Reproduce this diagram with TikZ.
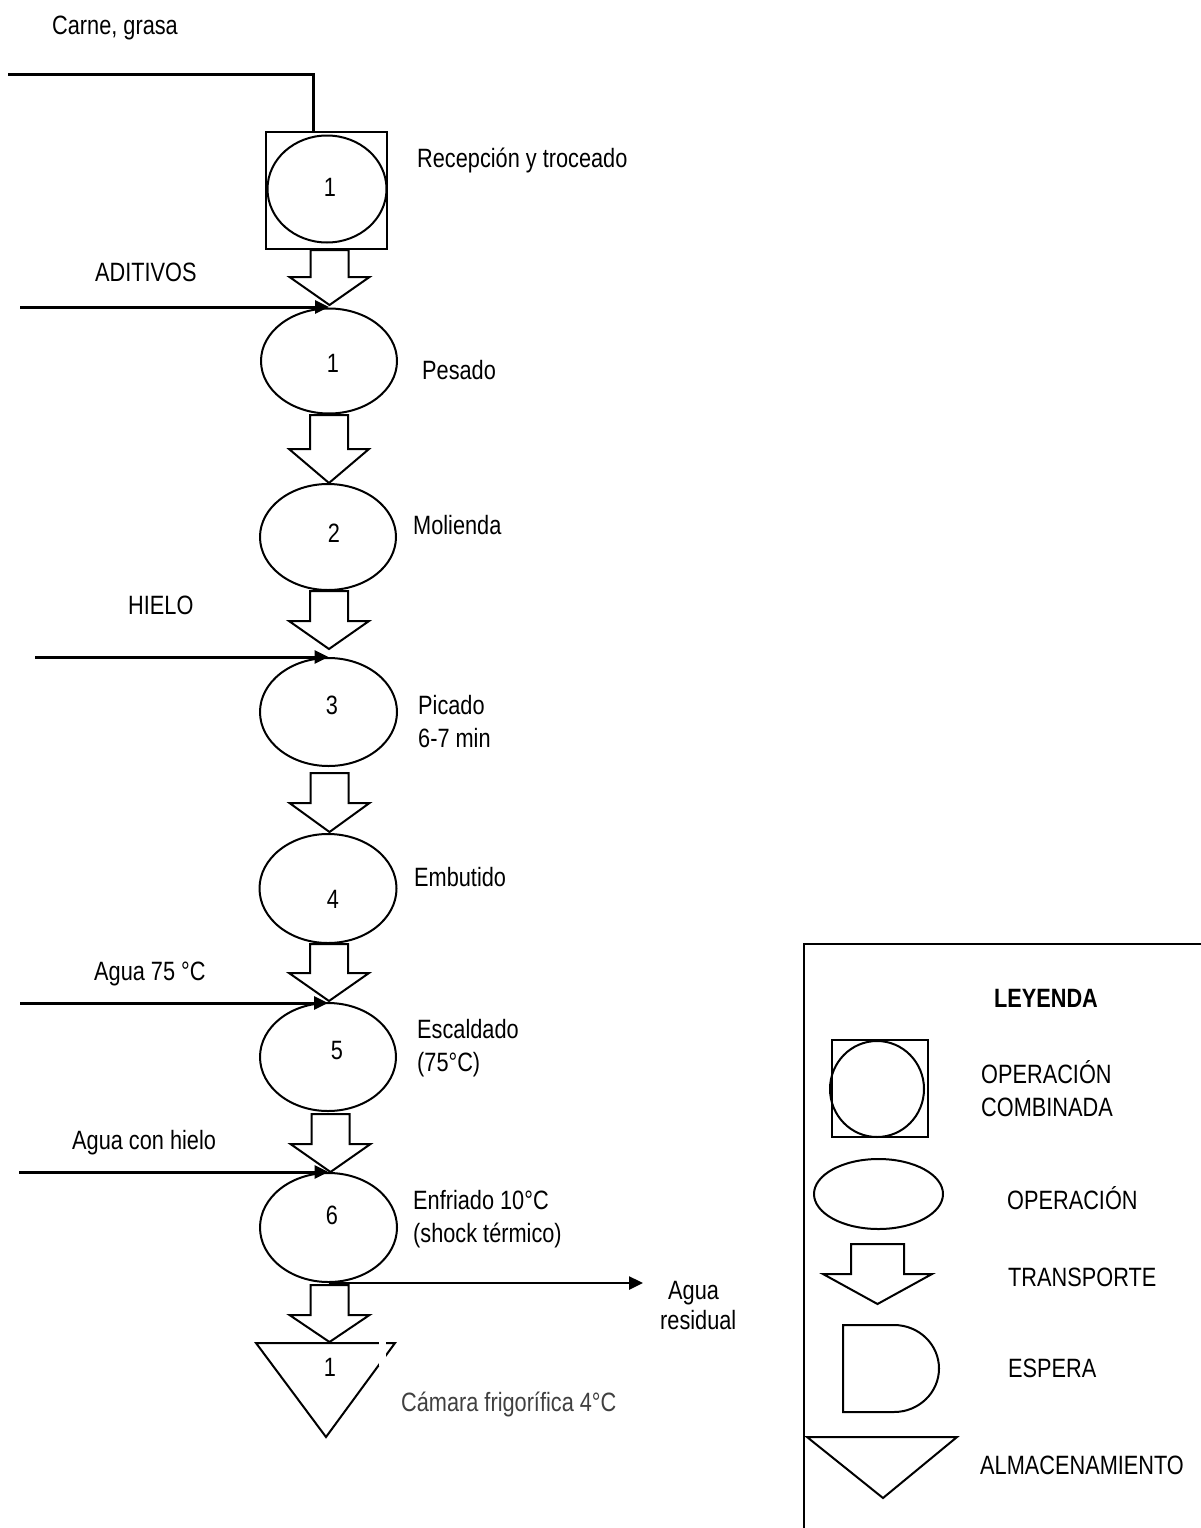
\documentclass[tikz,border=0pt]{standalone}
\usepackage{fontspec}
\setmainfont{Liberation Sans}[FakeStretch=0.82]
\usetikzlibrary{shapes.geometric,arrows.meta}
\definecolor{txtgrey}{HTML}{404040}
\begin{document}
\begin{tikzpicture}[x=1pt,y=-1pt,
  every node/.style={font=\fontsize{26.5}{33}\selectfont},
  lbl/.style={inner sep=0pt, anchor=west, text height=19pt, text depth=0pt},
  num/.style={inner sep=0pt, anchor=center, text height=19pt, text depth=0pt},
  opnode/.style={draw, ellipse, line width=2pt, inner sep=0pt},
  shapeline/.style={line width=2pt, line join=miter},
  inflow/.style={line width=3pt, -{Triangle[length=14pt,width=13pt]}},
  pics/transp/.style n args={4}{code={\draw[shapeline] (-#1,0) -- (-#1,#3) -- (-#2,#3) -- (0,#4) -- (#2,#3) -- (#1,#3) -- (#1,0) -- cycle;}}
]
\path[use as bounding box] (0,0) rectangle (1201,1528);
\fill[white] (0,0) rectangle (1201,1528);

% ---------- main flow ----------
\node[draw, rectangle, line width=1.7pt, inner sep=0pt, minimum width=121pt, minimum height=117pt] (comb) at (326.5,190.5) {};
\node[opnode, minimum width=119pt, minimum height=107pt] (op0) at (327,189) {};
\node[num] (n0) at (330,187) {1};

\node[opnode, minimum width=136pt, minimum height=105pt] (op1) at (329,361) {};
\node[num] (n1) at (333,363) {1};
\node[opnode, minimum width=136pt, minimum height=106pt] (op2) at (328,537) {};
\node[num] (n2) at (334,533) {2};
\node[opnode, minimum width=137pt, minimum height=108pt] (op3) at (328.5,712) {};
\node[num] (n3) at (332,705) {3};
\node[opnode, minimum width=137pt, minimum height=109pt] (op4) at (328,888.5) {};
\node[num] (n4) at (333,899) {4};
\node[opnode, minimum width=136pt, minimum height=108pt] (op5) at (328,1057) {};
\node[num] (n5) at (337,1050) {5};
\node[opnode, minimum width=137pt, minimum height=109pt] (op6) at (328.5,1227.5) {};
\node[num] (n6) at (332,1215) {6};

% transport arrows
\pic at (329.5,250) {transp={19}{40}{27}{55}};
\pic at (329,415) {transp={19}{40}{34}{68}};
\pic at (329,591) {transp={19}{40}{30}{58}};
\pic at (329.5,773) {transp={19}{40}{30}{59}};
\pic at (329,944) {transp={19}{40}{29}{57}};
\pic at (330.5,1114) {transp={19}{40}{30}{58}};
\pic at (329.5,1285) {transp={19}{40}{30}{57}};

% storage
\draw[shapeline] (256,1343) -- (395,1343) -- (326,1437) -- cycle;
\fill[white] (379,1340) rectangle (386,1366);
\node[num] (n7) at (330,1367) {1};

% inputs
\coordinate (carne) at (8,74);
\coordinate (cin) at (313,74);
\draw[line width=3pt] (carne) -- (cin) -- (cin |- comb.north);
\coordinate (adit) at (20,307);
\draw[inflow] (adit) -- (adit -| op1.north);
\coordinate (hielo) at (35,657);
\draw[inflow] (hielo) -- (hielo -| op3.north);
\coordinate (agua75) at (20,1003);
\draw[inflow] (agua75) -- (agua75 -| op5.north);
\coordinate (aguahielo) at (19,1172);
\draw[inflow] (aguahielo) -- (aguahielo -| op6.north);
\coordinate (resid) at (643,1283);
\draw[line width=2.5pt, -{Triangle[length=14pt,width=13pt]}] (op6.south) -- (resid);

% labels
\node[lbl] (t0) at (52,25) {Carne, grasa};
\node[lbl] (t1) at (417,158) {Recepción y troceado};
\node[lbl] (t2) at (95,272) {ADITIVOS};
\node[lbl] (t3) at (422,370) {Pesado};
\node[lbl] (t4) at (413,525) {Molienda};
\node[lbl] (t5) at (128,605) {HIELO};
\node[lbl] (t6) at (418,705) {Picado};
\node[lbl] (t6b) at (418,738) {6-7 min};
\node[lbl] (t7) at (414,877) {Embutido};
\node[lbl] (t8) at (94,971) {Agua 75 °C};
\node[lbl] (t9) at (417,1029) {Escaldado};
\node[lbl] (t9b) at (417,1062) {(75°C)};
\node[lbl] (t10) at (72,1140) {Agua con hielo};
\node[lbl] (t11) at (413,1200) {Enfriado 10°C};
\node[lbl] (t11b) at (413,1233) {(shock térmico)};
\node[lbl] (t12) at (668,1290) {Agua};
\node[lbl] (t12b) at (660,1320) {residual};
\node[lbl, text=txtgrey] (t13) at (401,1402) {Cámara frigorífica 4°C};

% ---------- legend ----------
\draw[line width=2pt] (804,1532) -- (804,944) -- (1205,944);
\node[num, font=\fontsize{26.5}{33}\selectfont\bfseries] (ley) at (1046,998) {LEYENDA};
\node[draw, rectangle, line width=1.7pt, inner sep=0pt, minimum width=96pt, minimum height=97pt] (lcomb) at (880,1088.5) {};
\node[draw, ellipse, line width=2pt, inner sep=0pt, minimum width=94pt, minimum height=96pt] (lcirc) at (877,1089) {};
\node[lbl] (l1) at (981,1074) {OPERACIÓN};
\node[lbl] (l1b) at (981,1107) {COMBINADA};
\node[opnode, minimum width=129pt, minimum height=70pt] (lop) at (878.5,1194) {};
\node[lbl] (l2) at (1007,1200) {OPERACIÓN};
\pic at (877.5,1244) {transp={26.5}{54.5}{30}{60}};
\node[lbl] (l3) at (1008,1277) {TRANSPORTE};
\draw[shapeline] (843,1325) -- (894,1325) .. controls (918.9,1325) and (939,1344.5) .. (939,1368.5) .. controls (939,1392.5) and (918.9,1412) .. (894,1412) -- (843,1412) -- cycle;
\node[lbl] (l4) at (1008,1368) {ESPERA};
\draw[shapeline] (807,1437) -- (957,1437) -- (883,1498) -- cycle;
\node[lbl] (l5) at (980,1465) {ALMACENAMIENTO};
\end{tikzpicture}
\end{document}
